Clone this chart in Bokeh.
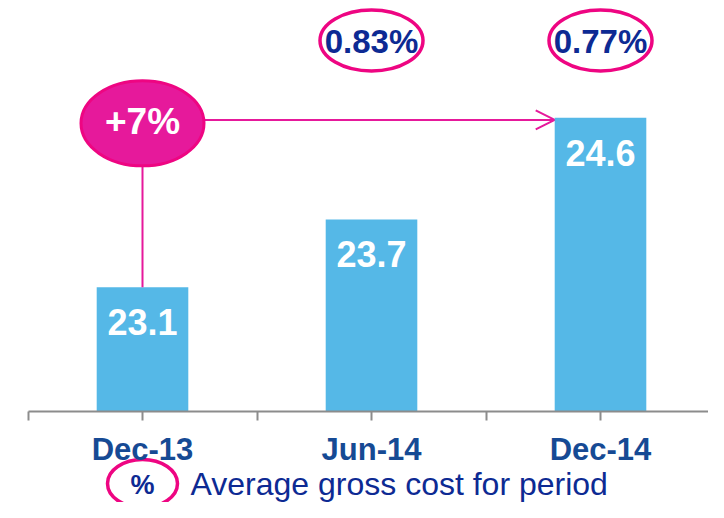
from bokeh.plotting import figure
from bokeh.models import Range1d, FixedTicker, Arrow, OpenHead, ColumnDataSource
from bokeh.core.properties import value
from bokeh.embed import file_html
from bokeh.resources import INLINE

# ---- data ----
categories = ["Dec-13", "Jun-14", "Dec-14"]
values = [23.1, 23.7, 24.6]
value_labels = ["23.1", "23.7", "24.6"]
cost_categories = ["Jun-14", "Dec-14"]
cost_labels = ["0.83%", "0.77%"]
growth_label = "+7%"
legend_symbol = "%"
legend_text = "Average gross cost for period"

# ---- layout constants ----
FONT = value("Liberation Sans")
BAR_COLOR = "#55B8E7"
MAGENTA = "#E6199B"
MAGENTA_EDGE = "#EE0582"
NAVY = "#0D2A93"
CAT_COLOR = "#164A94"
BASE = 22.0
BAR_W = 0.4
TOP_Y = 25.283
GROWTH_Y = 24.55
ARROW_Y = 24.58
LEGEND_Y = 21.363

xs = list(range(len(categories)))
pos = {c: i for i, c in enumerate(categories)}

p = figure(width=708, height=502,
           x_range=Range1d(-0.6201, 2.4716), y_range=Range1d(21.195, 25.637),
           output_backend="svg", toolbar_location=None, min_border=0,
           y_axis_location=None)
p.outline_line_color = None
p.xgrid.visible = False
p.ygrid.visible = False
p.background_fill_color = "white"
p.border_fill_color = "white"

# axis
ax = p.xaxis[0]
ax.fixed_location = BASE
ax.bounds = (-0.5, 2.5)
ax.ticker = FixedTicker(ticks=xs, minor_ticks=[x + 0.5 for x in [-1] + xs])
ax.major_label_overrides = {i: c for i, c in enumerate(categories)}
ax.axis_line_color = "#8C8C8C"
ax.axis_line_width = 2
ax.major_tick_line_color = "#8C8C8C"
ax.major_tick_line_width = 2
ax.major_tick_out = 9
ax.major_tick_in = 0
ax.minor_tick_line_color = "#8C8C8C"
ax.minor_tick_line_width = 2
ax.minor_tick_out = 9
ax.minor_tick_in = 0
ax.major_label_standoff = 11
ax.major_label_text_font = "Liberation Sans"
ax.major_label_text_font_style = "bold"
ax.major_label_text_font_size = "31px"
ax.major_label_text_color = CAT_COLOR

# bars
src = ColumnDataSource(dict(x=xs, top=values, label=value_labels))
p.vbar(x="x", top="top", bottom=BASE, width=BAR_W, source=src,
       fill_color=BAR_COLOR, line_color=None)
p.text(x="x", y="top", text="label", source=src, text_font=FONT,
       text_font_style="bold", text_font_size="36px", text_color="white",
       text_align="center", text_baseline="middle", y_offset=35)

# growth connector
g_x = pos[categories[0]]
p.segment(x0=[g_x], y0=[GROWTH_Y], x1=[g_x], y1=[values[0]],
          line_color=MAGENTA, line_width=2)
arrow = Arrow(end=OpenHead(size=19, line_color=MAGENTA, line_width=2),
              x_start=g_x, y_start=ARROW_Y,
              x_end=pos[categories[-1]] - BAR_W / 2, y_end=ARROW_Y,
              line_color=MAGENTA, line_width=2, level="underlay")
p.add_layout(arrow)
p.ellipse(x=[g_x], y=[GROWTH_Y], width=123, height=85,
          width_units="screen", height_units="screen",
          fill_color=MAGENTA, line_color=MAGENTA_EDGE, line_width=3)
p.text(x=[g_x], y=[GROWTH_Y], text=[growth_label], text_font=FONT,
       text_font_style="bold", text_font_size="37px", text_color="white",
       text_align="center", text_baseline="middle", y_offset=-2)

# cost percentages
cx = [pos[c] for c in cost_categories]
p.ellipse(x=cx, y=[TOP_Y] * len(cx), width=103, height=61,
          width_units="screen", height_units="screen",
          fill_color=None, line_color=MAGENTA_EDGE, line_width=3.5)
p.text(x=cx, y=[TOP_Y] * len(cx), text=cost_labels, text_font=FONT,
       text_font_style="bold", text_font_size="33px", text_color=NAVY,
       text_align="center", text_baseline="middle", y_offset=1)

# legend
p.ellipse(x=[g_x], y=[LEGEND_Y], width=70, height=48,
          width_units="screen", height_units="screen",
          fill_color=None, line_color=MAGENTA_EDGE, line_width=3.5)
p.text(x=[g_x], y=[LEGEND_Y], text=[legend_symbol], text_font=FONT,
       text_font_style="bold", text_font_size="27px", text_color=NAVY,
       text_align="center", text_baseline="middle", y_offset=1)
p.text(x=[g_x], y=[LEGEND_Y], text=[legend_text], text_font=FONT,
       text_font_size="32px", text_color=NAVY,
       text_align="left", text_baseline="middle", x_offset=48)

open("out.html", "w").write(file_html(p, INLINE))
